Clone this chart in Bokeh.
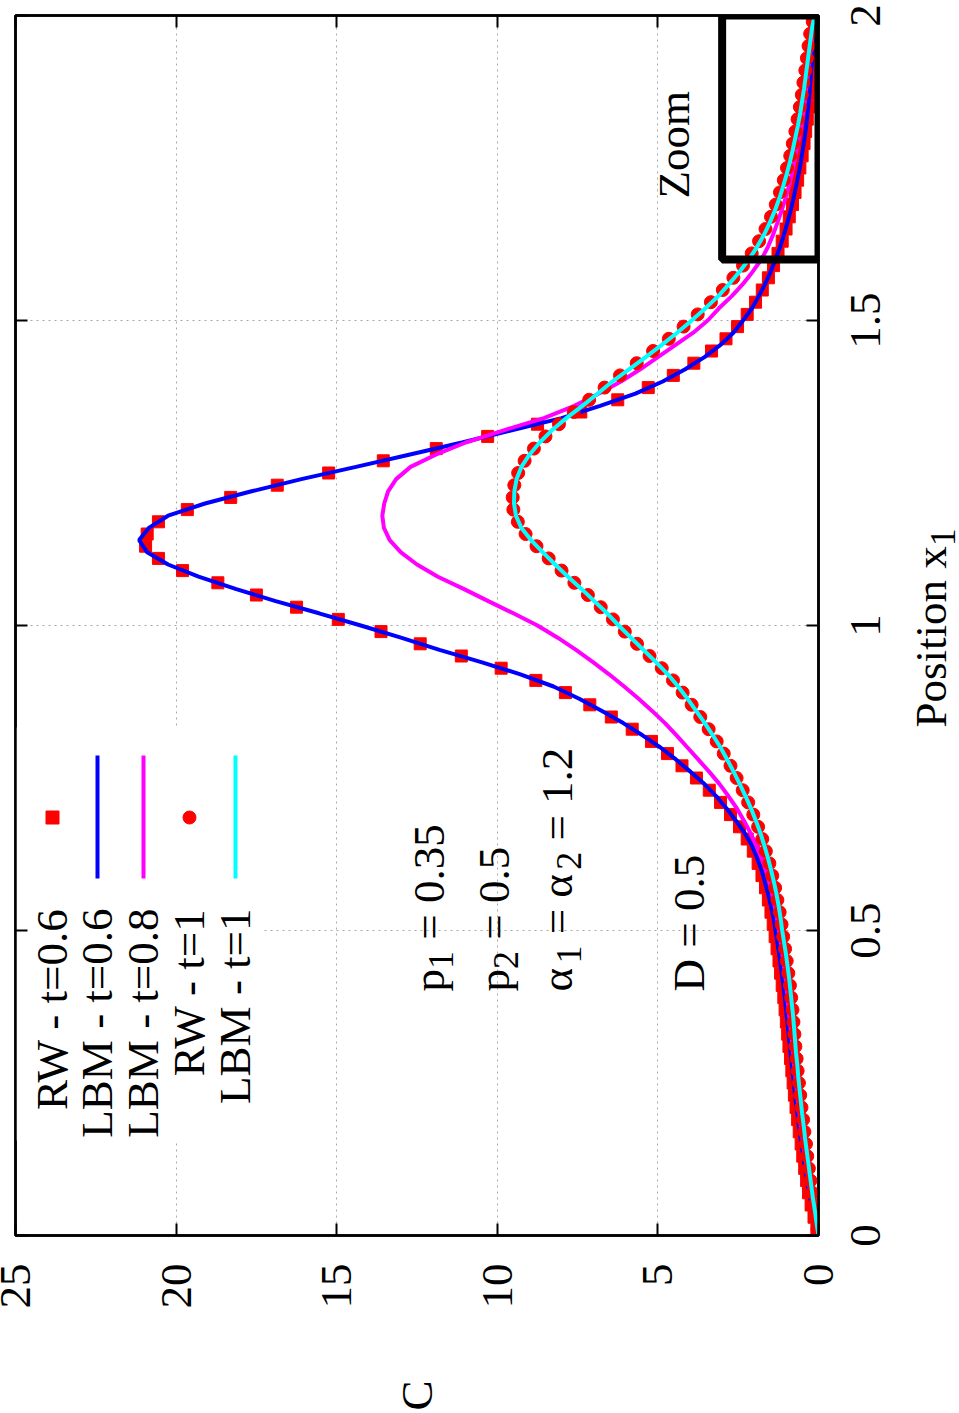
import math
from bokeh.plotting import figure
from bokeh.layouts import row
from bokeh.models import (Range1d, LinearAxis, FixedTicker, Label, BoxAnnotation,
                          CustomJSTickFormatter)
from bokeh.embed import file_html
from bokeh.resources import INLINE

# ---------------- data ----------------
LBM_POS = [0.00, 0.02, 0.04, 0.06, 0.08, 0.10, 0.12, 0.14, 0.16, 0.18,
           0.20, 0.22, 0.24, 0.26, 0.28, 0.30, 0.32, 0.34, 0.36, 0.38,
           0.40, 0.42, 0.44, 0.46, 0.48, 0.50, 0.52, 0.54, 0.56, 0.58,
           0.60, 0.62, 0.64, 0.66, 0.68, 0.70, 0.72, 0.74, 0.76, 0.78,
           0.80, 0.82, 0.84, 0.86, 0.88, 0.90, 0.92, 0.94, 0.96, 0.98,
           1.00, 1.02, 1.04, 1.06, 1.08, 1.10, 1.12, 1.14, 1.16, 1.18,
           1.20, 1.22, 1.24, 1.26, 1.28, 1.30, 1.32, 1.34, 1.36, 1.38,
           1.40, 1.42, 1.44, 1.46, 1.48, 1.50, 1.52, 1.54, 1.56, 1.58,
           1.60, 1.62, 1.64, 1.66, 1.68, 1.70, 1.72, 1.74, 1.76, 1.78,
           1.80, 1.82, 1.84, 1.86, 1.88, 1.90, 1.92, 1.94, 1.96, 1.98, 2.00]

LBM06_C = [0.00, 0.09, 0.18, 0.26, 0.33, 0.39, 0.45, 0.50, 0.56, 0.61,
           0.66, 0.71, 0.75, 0.79, 0.83, 0.87, 0.91, 0.95, 0.99, 1.03,
           1.07, 1.12, 1.17, 1.22, 1.28, 1.34, 1.40, 1.48, 1.57, 1.67,
           1.78, 1.92, 2.08, 2.30, 2.57, 2.86, 3.18, 3.55, 3.98, 4.43,
           4.92, 5.48, 6.08, 6.74, 7.45, 8.25, 9.28, 10.50, 11.80, 13.00,
           14.25, 15.55, 16.90, 18.15, 19.30, 20.25, 20.90, 21.15, 20.85, 20.25,
           19.10, 17.65, 16.10, 14.40, 12.75, 11.10, 9.55, 8.00, 6.80, 5.70,
           4.85, 4.15, 3.55, 3.05, 2.65, 2.35, 2.07, 1.86, 1.66, 1.49,
           1.34, 1.20, 1.08, 0.97, 0.87, 0.78, 0.70, 0.62, 0.55, 0.49,
           0.43, 0.38, 0.34, 0.30, 0.27, 0.24, 0.21, 0.18, 0.14, 0.10, 0.05]

LBM08_C = [0.00, 0.07, 0.15, 0.21, 0.28, 0.34, 0.39, 0.45, 0.50, 0.55,
           0.59, 0.64, 0.68, 0.72, 0.76, 0.79, 0.83, 0.87, 0.91, 0.95,
           0.98, 1.02, 1.07, 1.12, 1.17, 1.23, 1.29, 1.36, 1.44, 1.53,
           1.64, 1.78, 1.94, 2.12, 2.32, 2.54, 2.80, 3.08, 3.40, 3.74,
           4.08, 4.42, 4.78, 5.18, 5.60, 6.05, 6.52, 7.02, 7.55, 8.12,
           8.75, 9.50, 10.28, 11.05, 11.85, 12.50, 13.00, 13.35, 13.53, 13.58,
           13.52, 13.40, 13.15, 12.70, 11.92, 10.98, 9.80, 8.55, 7.60, 6.85,
           6.15, 5.55, 5.00, 4.45, 3.90, 3.45, 3.10, 2.70, 2.35, 2.05,
           1.78, 1.58, 1.42, 1.28, 1.15, 1.03, 0.92, 0.83, 0.75, 0.68,
           0.61, 0.54, 0.48, 0.43, 0.38, 0.34, 0.30, 0.25, 0.20, 0.14, 0.08]

LBM1_C = [0.00, 0.06, 0.11, 0.17, 0.22, 0.27, 0.32, 0.37, 0.42, 0.46,
          0.51, 0.55, 0.59, 0.63, 0.66, 0.70, 0.73, 0.76, 0.79, 0.83,
          0.87, 0.91, 0.96, 1.01, 1.07, 1.13, 1.18, 1.24, 1.31, 1.39,
          1.48, 1.58, 1.69, 1.81, 1.95, 2.10, 2.27, 2.45, 2.64, 2.84,
          3.05, 3.29, 3.54, 3.81, 4.08, 4.37, 4.69, 5.06, 5.45, 5.84,
          6.22, 6.58, 6.98, 7.38, 7.80, 8.20, 8.58, 8.95, 9.25, 9.42,
          9.48, 9.47, 9.40, 9.25, 9.00, 8.68, 8.30, 7.85, 7.35, 6.88,
          6.42, 5.90, 5.38, 4.88, 4.40, 3.95, 3.52, 3.12, 2.78, 2.46,
          2.17, 1.92, 1.70, 1.52, 1.36, 1.22, 1.10, 0.99, 0.89, 0.80,
          0.72, 0.64, 0.57, 0.51, 0.45, 0.40, 0.35, 0.30, 0.25, 0.20, 0.12]

RW_POS = [0.01, 0.03, 0.05, 0.07, 0.09, 0.11, 0.13, 0.15, 0.17, 0.19,
          0.21, 0.23, 0.25, 0.27, 0.29, 0.31, 0.33, 0.35, 0.37, 0.39,
          0.41, 0.43, 0.45, 0.47, 0.49, 0.51, 0.53, 0.55, 0.57, 0.59,
          0.61, 0.63, 0.65, 0.67, 0.69, 0.71, 0.73, 0.75, 0.77, 0.79,
          0.81, 0.83, 0.85, 0.87, 0.89, 0.91, 0.93, 0.95, 0.97, 0.99,
          1.01, 1.03, 1.05, 1.07, 1.09, 1.11, 1.13, 1.15, 1.17, 1.19,
          1.21, 1.23, 1.25, 1.27, 1.29, 1.31, 1.33, 1.35, 1.37, 1.39,
          1.41, 1.43, 1.45, 1.47, 1.49, 1.51, 1.53, 1.55, 1.57, 1.59,
          1.61, 1.63, 1.65, 1.67, 1.69, 1.71, 1.73, 1.75, 1.77, 1.79,
          1.81, 1.83, 1.85, 1.87, 1.89, 1.91, 1.93, 1.95, 1.97, 1.99]

RW06_C = [0.05, 0.14, 0.23, 0.31, 0.37, 0.43, 0.49, 0.54, 0.60, 0.65,
          0.70, 0.75, 0.79, 0.83, 0.87, 0.92, 0.96, 1.00, 1.04, 1.08,
          1.13, 1.18, 1.23, 1.29, 1.35, 1.41, 1.48, 1.56, 1.65, 1.76,
          1.88, 2.03, 2.22, 2.46, 2.74, 3.05, 3.40, 3.80, 4.25, 4.70,
          5.20, 5.80, 6.45, 7.12, 7.88, 8.80, 9.88, 11.12, 12.40, 13.62,
          14.95, 16.25, 17.50, 18.70, 19.80, 20.55, 20.95, 20.90, 20.55, 19.65,
          18.30, 16.85, 15.25, 13.55, 11.90, 10.30, 8.75, 7.40, 6.25, 5.30,
          4.52, 3.88, 3.33, 2.88, 2.52, 2.22, 1.96, 1.75, 1.56, 1.40,
          1.26, 1.13, 1.01, 0.91, 0.81, 0.73, 0.65, 0.58, 0.51, 0.45,
          0.40, 0.35, 0.31, 0.27, 0.24, 0.21, 0.18, 0.15, 0.11, 0.06]

RW1_C = [0.03, 0.09, 0.14, 0.19, 0.25, 0.30, 0.35, 0.39, 0.44, 0.48,
         0.53, 0.57, 0.61, 0.65, 0.68, 0.72, 0.75, 0.78, 0.81, 0.85,
         0.89, 0.94, 0.99, 1.04, 1.10, 1.15, 1.21, 1.28, 1.35, 1.44,
         1.53, 1.64, 1.75, 1.88, 2.03, 2.19, 2.36, 2.55, 2.74, 2.95,
         3.17, 3.42, 3.68, 3.95, 4.23, 4.53, 4.88, 5.26, 5.65, 6.03,
         6.40, 6.78, 7.18, 7.60, 8.00, 8.40, 8.78, 9.12, 9.36, 9.50,
         9.52, 9.47, 9.35, 9.15, 8.86, 8.50, 8.08, 7.62, 7.14, 6.66,
         6.18, 5.66, 5.15, 4.66, 4.20, 3.76, 3.35, 2.98, 2.65, 2.35,
         2.08, 1.85, 1.65, 1.48, 1.33, 1.20, 1.08, 0.98, 0.88, 0.80,
         0.72, 0.65, 0.58, 0.52, 0.47, 0.41, 0.36, 0.31, 0.26, 0.18]

C_TICKS = [0, 5, 10, 15, 20, 25]
C_TICK_LABELS = ["0", "5", "10", "15", "20", "25"]
POS_TICKS = [0, 0.5, 1, 1.5, 2]
POS_TICK_LABELS = ["0", "0.5", "1", "1.5", "2"]
X_TITLE = "C"
Y_TITLE = [("Position x", 0), ("1", 1)]

LEGEND_LABELS = ["RW - t=0.6", "LBM - t=0.6", "LBM - t=0.8", "RW - t=1", "LBM - t=1"]
ZOOM_C = (0.0, 3.0)
ZOOM_POS = (1.6, 2.0)

# ---------------- layout ----------------
W, H = 959, 1413
FL, FR, FT, FB = 15, 818, 15, 1235
PW = 842                      # width of the main figure; the rest holds the right-side texts
C_MAX, P_MAX = 25.0, 2.0
PX_C = (FR - FL) / C_MAX
PX_P = (FB - FT) / P_MAX
FONT = "Liberation Serif"
FS = 45
SUB_FS = 36
SUB_SHIFT = 12
BASE_FIX = 17          # rendered baseline offset correction (px)
ROT = math.pi / 2
EM = {'p': .5, '1': .5, '2': .5, ' ': .25, '=': .564, '0': .5, '.': .25, '3': .5,
      '5': .5, 'α': .62, 'D': .722, 'P': .556, 'o': .5, 's': .389, 'i': .278,
      't': .278, 'n': .5, 'x': .5}


def c_of(px):
    return (FR - px) / PX_C


def p_of(py):
    return (FB - py) / PX_P


def text_w(txt, size=FS):
    return sum(EM.get(ch, .5) for ch in txt) * size


p = figure(width=PW, height=H, x_range=Range1d(C_MAX, 0), y_range=Range1d(0, P_MAX),
           y_axis_location="right", output_backend="svg", toolbar_location=None,
           min_border_left=FL, min_border_right=PW - FR, min_border_top=FT,
           min_border_bottom=H - FB)
p.background_fill_color = "white"
p.border_fill_color = "white"
p.outline_line_color = "black"
p.outline_line_width = 2.5

blank = CustomJSTickFormatter(code="return ''")

xa = p.xaxis[0]
ya = p.yaxis[0]
xa.ticker = FixedTicker(ticks=C_TICKS)
xa.major_label_overrides = dict(zip(C_TICKS, C_TICK_LABELS))
xa.major_label_standoff = 28
xa.major_label_orientation = ROT
xa.major_label_text_font = FONT
xa.major_label_text_font_size = f"{FS}px"
xa.major_label_text_color = "black"

ya.ticker = FixedTicker(ticks=POS_TICKS)
ya.formatter = blank
ya.major_label_text_font_size = "0px"
ya.major_label_standoff = 0

for ax in (xa, ya):
    ax.major_tick_in = 12
    ax.major_tick_out = 0
    ax.minor_tick_line_color = None
    ax.major_tick_line_width = 2
    ax.axis_line_width = 2.5

# bottom title "C": a rotated label on a tick-less axis below the tick labels
xc = LinearAxis(ticker=FixedTicker(ticks=[C_MAX / 2]),
                major_label_overrides={C_MAX / 2: X_TITLE},
                major_tick_line_color=None, minor_tick_line_color=None,
                axis_line_color=None, major_label_orientation=ROT,
                major_label_standoff=63, major_label_text_font=FONT,
                major_label_text_font_size=f"{FS}px", major_label_text_color="black")
p.add_layout(xc, "below")

top_ax = LinearAxis(ticker=FixedTicker(ticks=C_TICKS), formatter=blank,
                    major_tick_in=12, major_tick_out=0, minor_tick_line_color=None,
                    major_label_standoff=0, major_label_text_font_size="0px",
                    axis_line_width=2.5, major_tick_line_width=2)
left_ax = LinearAxis(ticker=FixedTicker(ticks=POS_TICKS), formatter=blank,
                     major_tick_in=12, major_tick_out=0, minor_tick_line_color=None,
                     major_label_standoff=0, major_label_text_font_size="0px",
                     axis_line_width=2.5, major_tick_line_width=2)
p.add_layout(top_ax, "above")
p.add_layout(left_ax, "left")

p.xgrid.ticker = FixedTicker(ticks=C_TICKS)
p.ygrid.ticker = FixedTicker(ticks=POS_TICKS)
for g in (p.xgrid, p.ygrid):
    g.grid_line_color = "#a8a8a8"
    g.grid_line_dash = "2 4"
    g.grid_line_width = 1

# opaque key background (hides the grid behind the key)
p.quad(left=[C_MAX], right=[c_of(262)], bottom=[p_of(1140)], top=[p_of(727)],
       fill_color="white", line_color=None)

# ---------------- series ----------------
p.scatter(RW06_C, RW_POS, marker="square", size=12, color="red")
p.line(LBM06_C, LBM_POS, line_color="blue", line_width=4)
p.line(LBM08_C, LBM_POS, line_color="magenta", line_width=4)
p.scatter(RW1_C, RW_POS, marker="circle", size=13, color="red")
p.line(LBM1_C, LBM_POS, line_color="cyan", line_width=4)

# ---------------- key ----------------
row_px = [52, 97, 143, 189, 235]
styles = [("square", "red"), ("line", "blue"), ("line", "magenta"), ("circle", "red"), ("line", "cyan")]
for (kind, col), rx in zip(styles, row_px):
    cx = c_of(rx)
    if kind == "line":
        p.line([cx, cx], [p_of(878), p_of(755)], line_color=col, line_width=4)
    else:
        p.scatter([cx], [p_of(817)], marker=kind, size=13, color=col)


def rtext(fig, xmap, txt, base_px, pos, size=FS, align="left"):
    fig.add_layout(Label(x=xmap(base_px - BASE_FIX), y=pos, text=txt, angle=ROT,
                         angle_units="rad", text_font=FONT, text_font_size=f"{size}px",
                         text_align=align, text_baseline="alphabetic", text_color="black"))


def rparts(fig, xmap, parts, base_px, pos0):
    pos = pos0
    for txt, sub in parts:
        size = SUB_FS if sub else FS
        shift = SUB_SHIFT if sub else 0
        lead = len(txt) - len(txt.lstrip(" "))
        start = pos + lead * EM[' '] * size / PX_P
        rtext(fig, xmap, txt.strip(" "), base_px + shift, start, size)
        pos += text_w(txt, size) / PX_P


for lab, rx in zip(LEGEND_LABELS, row_px):
    rtext(p, c_of, lab, rx + 16, p_of(908), align="right")

ann_start = p_of(991)
rparts(p, c_of, [("p", 0), ("1", 1), (" = 0.35", 0)], 445, ann_start)
rparts(p, c_of, [("p", 0), ("2", 1), (" = 0.5", 0)], 510, ann_start)
rparts(p, c_of, [("α", 0), ("1", 1), (" = ", 0), ("α", 0), ("2", 1), (" = 1.2", 0)], 573, ann_start)
rtext(p, c_of, "D = 0.5", 705, ann_start)
rtext(p, c_of, "Zoom", 690, p_of(198))

# zoom box
p.add_layout(BoxAnnotation(left=ZOOM_C[1], right=ZOOM_C[0], bottom=ZOOM_POS[0], top=ZOOM_POS[1],
                           fill_color=None, fill_alpha=0, line_color="black",
                           line_alpha=1.0, line_width=8))

# ---------------- right strip: position tick labels and axis title ----------------
q = figure(width=W - PW, height=H, x_range=Range1d(PW, W), y_range=Range1d(0, P_MAX),
           x_axis_location=None, y_axis_location=None, output_backend="svg",
           toolbar_location=None, min_border=0)
q.min_border_left = q.min_border_right = q.min_border_top = q.min_border_bottom = 0
q.outline_line_color = None
q.background_fill_color = "white"
q.border_fill_color = "white"
q.grid.visible = False
try:
    q.frame_align = False
    p.frame_align = False
    q.y_range = Range1d(p_of(H), p_of(0))      # strip frame spans the full height
except Exception:
    q.y_range = Range1d(0, P_MAX)              # frames aligned with the main plot


def ident(v):
    return v


for t, lab in zip(POS_TICKS, POS_TICK_LABELS):
    rtext(q, ident, lab, 882, t, align="center")
rparts(q, ident, Y_TITLE, 947, p_of(727))

open("out.html", "w").write(file_html(row(p, q), INLINE))
